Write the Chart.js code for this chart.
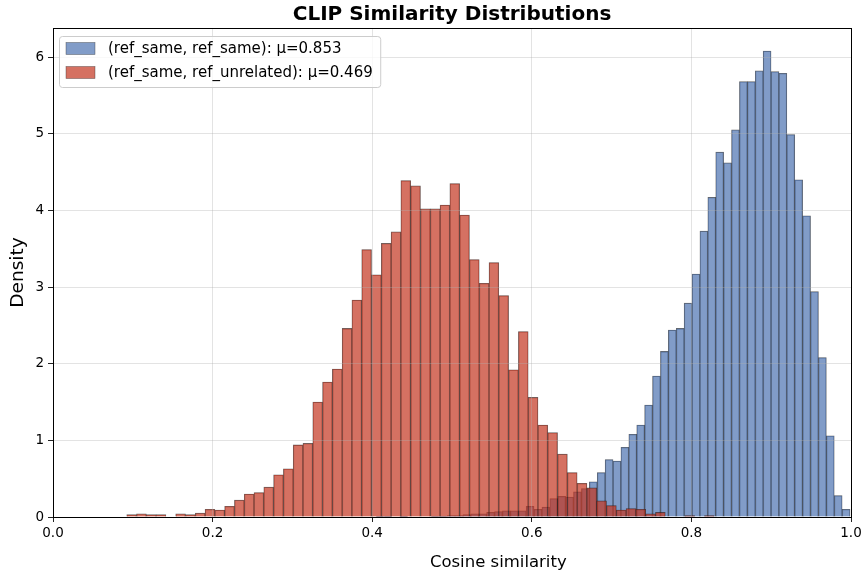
<!DOCTYPE html>
<html>
<head>
<meta charset="utf-8">
<script src="https://cdn.jsdelivr.net/npm/chart.js@4.4.1/dist/chart.umd.min.js"></script>
<style>
  body { margin: 0; background: #fff; }
  #wrap { width: 865px; height: 578px; }
</style>
</head>
<body>
<div id="wrap"><canvas id="chart" width="865" height="578"></canvas></div>
<script>
const chartTitle = 'CLIP Similarity Distributions'
const xTitle = 'Cosine similarity'
const yTitle = 'Density'
const sameLabel = '(ref_same, ref_same): μ=0.853'
const unrelatedLabel = '(ref_same, ref_unrelated): μ=0.469'

// histogram bins (60 each), density
const sameBinStart = 0.4048
const sameBinWidth = 0.0099
const sameDensity = [0.01, 0.01, 0, 0.01, 0, 0, 0, 0.01, 0.01, 0.02,
  0.02, 0.03, 0.04, 0.04, 0.06, 0.07, 0.08, 0.08, 0.08, 0.14,
  0.10, 0.13, 0.24, 0.27, 0.26, 0.33, 0.37, 0.46, 0.58, 0.75,
  0.73, 0.91, 1.08, 1.20, 1.46, 1.84, 2.16, 2.44, 2.46, 2.79,
  3.17, 3.73, 4.17, 4.76, 4.62, 5.05, 5.68, 5.68, 5.82, 6.08,
  5.81, 5.79, 4.99, 4.40, 3.93, 2.94, 2.08, 1.06, 0.28, 0.10]

const unrelatedBinStart = 0.0924
const unrelatedBinWidth = 0.01227
const unrelatedDensity = [0.03, 0.04, 0.03, 0.03, 0, 0.04, 0.03, 0.05, 0.10, 0.09,
  0.14, 0.22, 0.30, 0.32, 0.39, 0.55, 0.63, 0.94, 0.96, 1.50,
  1.76, 1.93, 2.46, 2.83, 3.49, 3.16, 3.57, 3.72, 4.39, 4.32,
  4.02, 4.02, 4.07, 4.35, 3.94, 3.36, 3.05, 3.32, 2.89, 1.92,
  2.42, 1.56, 1.20, 1.10, 0.82, 0.58, 0.44, 0.38, 0.21, 0.15,
  0.09, 0.11, 0.10, 0.04, 0.06, 0, 0, 0.02, 0, 0.02]

const xMin = 0
const xMax = 1
const yMax = 6.38

const toPoints = (start, width, values) =>
  values.map((v, i) => ({ x: start + (i + 0.5) * width, y: v }))

const FONT = 'DejaVu Sans'
Chart.defaults.color = '#000'
Chart.defaults.font.family = FONT

const frameAndLegend = {
  id: 'frameAndLegend',
  afterDraw(chart) {
    const { ctx, chartArea } = chart
    const w = chartArea.right - chartArea.left
    ctx.save()
    // axes frame
    ctx.strokeStyle = '#000'
    ctx.lineWidth = 1
    ctx.strokeRect(Math.round(chartArea.left) + 0.5, Math.round(chartArea.top) + 0.5,
      Math.round(w), Math.round(chartArea.bottom - chartArea.top))

    // x label sits a bit right of the axis centre in the original
    ctx.font = '16.5px ' + FONT
    ctx.fillStyle = '#000'
    ctx.textAlign = 'center'
    ctx.textBaseline = 'middle'
    ctx.fillText(xTitle, chartArea.left + w * 0.558, 563)

    // legend box, top left inside the plot
    const items = chart.data.datasets
    ctx.font = '15px ' + FONT
    const textW = Math.max(...items.map(d => ctx.measureText(d.label).width))
    const bx = chartArea.left + 6.5
    const by = chartArea.top + 8.5
    const textX = chartArea.left + 55
    const bw = textX + textW + 8 - bx
    const bh = 51
    ctx.beginPath()
    ctx.roundRect(bx, by, bw, bh, 3)
    ctx.fillStyle = 'rgba(255,255,255,0.8)'
    ctx.fill()
    ctx.strokeStyle = '#cccccc'
    ctx.stroke()

    items.forEach((d, i) => {
      const cy = by + 12 + i * 24
      ctx.fillStyle = '#fff'
      ctx.fillRect(chartArea.left + 13, cy - 6, 29, 12)
      ctx.fillStyle = d.backgroundColor
      ctx.fillRect(chartArea.left + 13, cy - 6, 29, 12)
      ctx.strokeStyle = 'rgba(40,40,40,0.6)'
      ctx.lineWidth = 0.6
      ctx.strokeRect(chartArea.left + 13, cy - 6, 29, 12)
      ctx.fillStyle = '#000'
      ctx.textBaseline = 'middle'
      ctx.textAlign = 'left'
      ctx.fillText(d.label, textX, cy + 1)
    })
    ctx.restore()
  }
}

new Chart(document.getElementById('chart'), {
  type: 'bar',
  data: {
    datasets: [
      {
        label: sameLabel,
        data: toPoints(sameBinStart, sameBinWidth, sameDensity),
        xAxisID: 'x2',
        grouped: false,
        backgroundColor: 'rgba(76,114,176,0.7)',
        borderColor: 'rgba(20,20,20,0.65)',
        borderWidth: 0.6,
        barPercentage: 1,
        categoryPercentage: 1,
        order: 2
      },
      {
        label: unrelatedLabel,
        data: toPoints(unrelatedBinStart, unrelatedBinWidth, unrelatedDensity),
        xAxisID: 'x',
        grouped: false,
        backgroundColor: 'rgba(195,52,32,0.7)',
        borderColor: 'rgba(20,20,20,0.65)',
        borderWidth: 0.6,
        barPercentage: 1,
        categoryPercentage: 1,
        order: 1
      }
    ]
  },
  options: {
    responsive: false,
    animation: false,
    layout: { padding: { left: 0, right: 14, top: 0, bottom: 0 } },
    plugins: {
      legend: { display: false },
      tooltip: { enabled: false },
      title: {
        display: true,
        fullSize: false,
        text: chartTitle,
        font: { size: 20, weight: 'bold', family: FONT },
        padding: { top: 2.5, bottom: 1.5 }
      }
    },
    scales: {
      x: {
        type: 'linear',
        min: xMin,
        max: xMax,
        offset: false,
        afterFit: (s) => { s.height = 61 },
        grid: { offset: false, color: 'rgba(176,176,176,0.35)', z: 1, tickLength: 5, tickColor: '#222' },
        border: { display: false },
        ticks: {
          stepSize: 0.2,
          includeBounds: false,
          padding: 3,
          font: { size: 13.5 },
          callback: (v) => v.toFixed(1)
        },
        title: { display: false, text: xTitle }
      },
      x2: {
        type: 'linear',
        min: xMin,
        max: xMax,
        offset: false,
        display: false,
        grid: { offset: false }
      },
      y: {
        min: 0,
        max: yMax,
        afterFit: (s) => { s.width = 53 },
        grid: { color: 'rgba(176,176,176,0.35)', z: 1, tickLength: 5, tickColor: '#222' },
        border: { display: false },
        ticks: { stepSize: 1, includeBounds: false, padding: 4, font: { size: 13.5 } },
        title: { display: true, text: yTitle, font: { size: 18.5 }, padding: { top: 7, bottom: 0 } }
      }
    }
  },
  plugins: [frameAndLegend]
})
</script>
</body>
</html>
